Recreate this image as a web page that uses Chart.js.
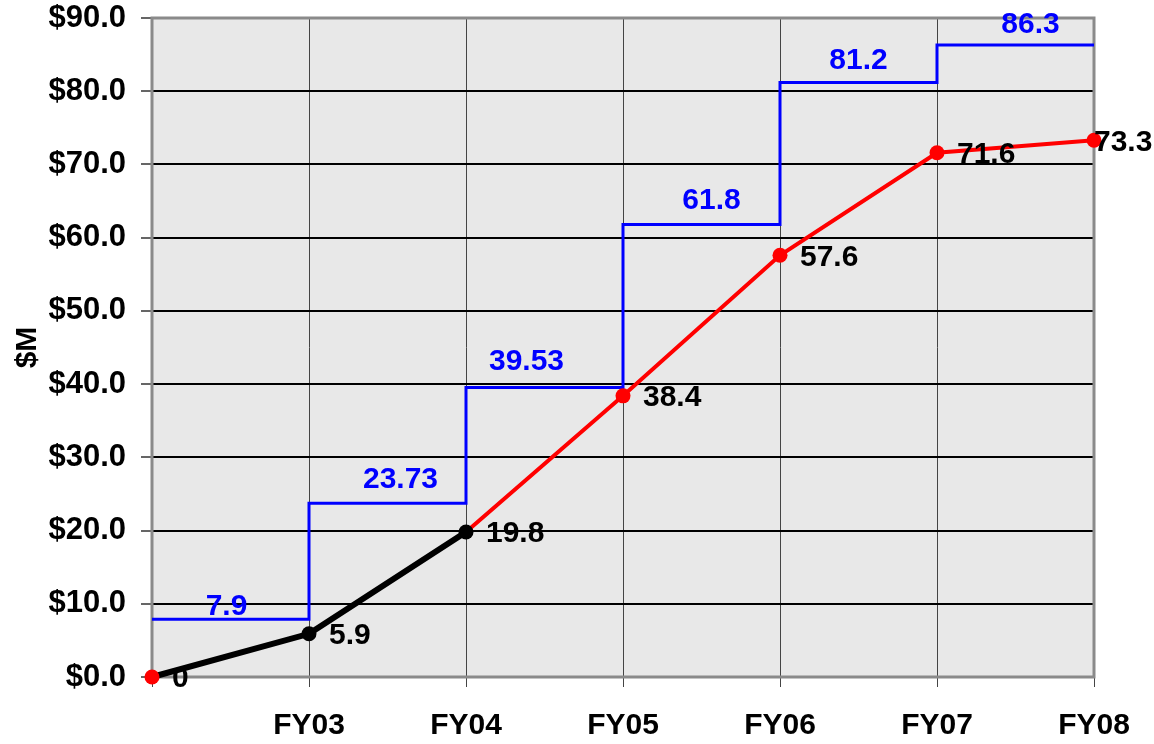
<!DOCTYPE html>
<html><head><meta charset="utf-8">
<script src="https://cdn.jsdelivr.net/npm/chart.js@4"></script>
<style>html,body{margin:0;padding:0;background:#fff}</style>
</head><body>
<canvas id="c" width="1154" height="744"></canvas>
<script>
const categories = ['', 'FY03', 'FY04', 'FY05', 'FY06', 'FY07', 'FY08'];
const budgetSteps = [7.9, 23.73, 39.53, 61.8, 81.2, 86.3];
const budgetText = ['7.9', '23.73', '39.53', '61.8', '81.2', '86.3'];
const actualValues = [0, 5.9, 19.8];
const actualText = ['0', '5.9', '19.8'];
const projectedValues = [19.8, 38.4, 57.6, 71.6, 73.3];
const projectedText = ['19.8', '38.4', '57.6', '71.6', '73.3'];
const yMin = 0, yMax = 90, yStep = 10;

const FONT = "'Liberation Sans', Arial, sans-serif";
// style-only offsets for labels
const budgetLabelDx = [-4, 13, -18, 10, 0, 15];
const budgetLabelGap = [4, 15, 18, 15, 13, 12];

const stepData = budgetSteps.concat([budgetSteps[budgetSteps.length - 1]]);
const blackData = categories.map((c, i) => i < actualValues.length ? actualValues[i] : null);
const projStart = actualValues.length - 1;
const redData = categories.map((c, i) => i >= projStart ? projectedValues[i - projStart] : null);

const bgPlugin = {
  id: 'bg',
  beforeDraw(chart) {
    const {ctx, chartArea: a} = chart;
    ctx.save();
    ctx.fillStyle = '#e8e8e8';
    ctx.fillRect(a.left, a.top, a.right - a.left, a.bottom - a.top);
    ctx.restore();
  },
  beforeDatasetsDraw(chart) {
    const {ctx, chartArea: a} = chart;
    ctx.save();
    ctx.strokeStyle = '#8a8a8a';
    ctx.lineWidth = 3;
    ctx.strokeRect(a.left, a.top, a.right - a.left, a.bottom - a.top);
    ctx.restore();
  },
  afterDatasetsDraw(chart) {
    const {ctx} = chart;
    const xs = chart.scales.x, ys = chart.scales.y;
    ctx.save();
    ctx.font = 'bold 30px ' + FONT;
    ctx.fillStyle = '#0000ff';
    ctx.textAlign = 'center';
    ctx.textBaseline = 'alphabetic';
    budgetSteps.forEach((v, i) => {
      const x = (xs.getPixelForValue(i) + xs.getPixelForValue(i + 1)) / 2 + budgetLabelDx[i];
      const y = ys.getPixelForValue(v) - budgetLabelGap[i];
      ctx.fillText(budgetText[i], x, y);
    });
    ctx.fillStyle = '#000';
    ctx.textAlign = 'left';
    ctx.textBaseline = 'middle';
    const bm = chart.getDatasetMeta(0), rm = chart.getDatasetMeta(1);
    actualText.forEach((t, i) => {
      const p = bm.data[i];
      ctx.fillText(t, p.x + 20, p.y + 2);
    });
    projectedText.forEach((t, j) => {
      if (j === 0) return;
      const i = j + projStart;
      const p = rm.data[i];
      const dx = (i === categories.length - 1) ? 0 : 20;
      ctx.fillText(t, p.x + dx, p.y + 2);
    });
    ctx.restore();
  }
};

new Chart(document.getElementById('c'), {
  type: 'line',
  data: {
    labels: categories,
    datasets: [
      {
        data: blackData,
        borderColor: '#000000',
        borderWidth: 6,
        clip: false,
        pointRadius: blackData.map((v, i) => v === null ? 0 : 7.5),
        pointBackgroundColor: blackData.map((v, i) => i === 0 ? '#ff0000' : '#000000'),
        pointBorderWidth: 0,
        tension: 0
      },
      {
        data: redData,
        borderColor: '#ff0000',
        borderWidth: 4,
        clip: false,
        pointRadius: redData.map((v, i) => (v === null || i === projStart) ? 0 : 7.5),
        pointBackgroundColor: '#ff0000',
        pointBorderWidth: 0,
        tension: 0
      },
      {
        data: stepData,
        borderColor: '#0000ff',
        borderWidth: 3,
        stepped: 'before',
        pointRadius: 0,
        tension: 0
      }
    ]
  },
  options: {
    responsive: false,
    animation: false,
    devicePixelRatio: 1,
    layout: { padding: { top: 18, right: 60, bottom: 0, left: 0 } },
    plugins: { legend: { display: false }, tooltip: { enabled: false } },
    scales: {
      x: {
        type: 'category',
        offset: false,
        border: { display: false },
        grid: { color: '#444', lineWidth: 1, tickLength: 10, tickColor: '#444' },
        ticks: { font: { family: FONT, size: 30, weight: 'bold' }, color: '#000', padding: 21, maxRotation: 0, autoSkip: false },
        afterFit(s) { s.height = 67; s.paddingLeft = 0; s.paddingRight = 0; }
      },
      y: {
        min: yMin, max: yMax,
        border: { display: false },
        grid: { color: '#000', lineWidth: 2, tickLength: 11, tickColor: '#666', tickWidth: 2 },
        ticks: { stepSize: yStep, font: { family: FONT, size: 31, weight: 'bold' }, color: '#000', padding: 15,
          callback: v => '$' + Number(v).toFixed(1) },
        title: { display: true, text: '$M', font: { family: FONT, size: 30, weight: 'bold' }, color: '#000', padding: { top: 10, bottom: 0 } },
        afterFit(s) { s.width = 152; s.paddingTop = 0; s.paddingBottom = 0; }
      }
    }
  },
  plugins: [bgPlugin]
});
</script>
</body></html>
